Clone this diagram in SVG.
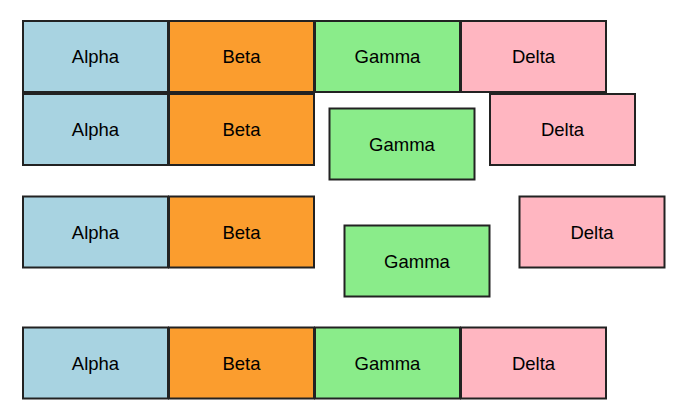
<svg xmlns="http://www.w3.org/2000/svg" width="690" height="414" viewBox="0 0 690 414">
<style>
rect{stroke:#222;stroke-width:2}
.a{fill:#a8d3e1}.b{fill:#fb9d2e}.g{fill:#8aec8a}.d{fill:#ffb6c1}
text{font-family:"Liberation Sans",Arial,sans-serif;font-size:18.5px;fill:#000;text-anchor:middle;dominant-baseline:central}
</style>
<rect x="0" y="0" width="690" height="414" fill="#fff" style="stroke:none"/>
<g id="connectors"></g>
<g id="alpha1"><rect class="a" x="23" y="21" width="145" height="71"/><text x="95.5" y="56.5">Alpha</text></g>
<g id="beta1"><rect class="b" x="169" y="21" width="145" height="71"/><text x="241.5" y="56.5">Beta</text></g>
<g id="gamma1"><rect class="g" x="315" y="21" width="145" height="71"/><text x="387.5" y="56.5">Gamma</text></g>
<g id="delta1"><rect class="d" x="461" y="21" width="145" height="71"/><text x="533.5" y="56.5">Delta</text></g>

<g id="alpha2"><rect class="a" x="23" y="94" width="145" height="71"/><text x="95.5" y="129.5">Alpha</text></g>
<g id="beta2"><rect class="b" x="169" y="94" width="145" height="71"/><text x="241.5" y="129.5">Beta</text></g>
<g id="gamma2"><rect class="g" x="329.5" y="108.5" width="145" height="71"/><text x="402" y="144">Gamma</text></g>
<g id="delta2"><rect class="d" x="490" y="94" width="145" height="71"/><text x="562.5" y="129.5">Delta</text></g>

<g id="alpha3"><rect class="a" x="23" y="196.5" width="145" height="71"/><text x="95.5" y="232">Alpha</text></g>
<g id="beta3"><rect class="b" x="169" y="196.5" width="145" height="71"/><text x="241.5" y="232">Beta</text></g>
<g id="gamma3"><rect class="g" x="344.5" y="225.5" width="145" height="71"/><text x="417" y="261">Gamma</text></g>
<g id="delta3"><rect class="d" x="519.5" y="196.5" width="145" height="71"/><text x="592" y="232">Delta</text></g>

<g id="alpha4"><rect class="a" x="23" y="327.5" width="145" height="71"/><text x="95.5" y="363">Alpha</text></g>
<g id="beta4"><rect class="b" x="169" y="327.5" width="145" height="71"/><text x="241.5" y="363">Beta</text></g>
<g id="gamma4"><rect class="g" x="315" y="327.5" width="145" height="71"/><text x="387.5" y="363">Gamma</text></g>
<g id="delta4"><rect class="d" x="461" y="327.5" width="145" height="71"/><text x="533.5" y="363">Delta</text></g>
</svg>
